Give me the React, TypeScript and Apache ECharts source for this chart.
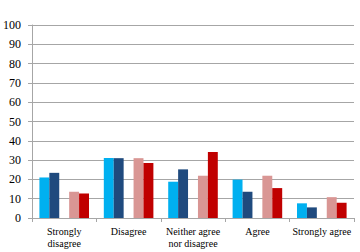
import React, { useEffect, useRef } from "react";
import * as echarts from "echarts";

const categories = ["Strongly\ndisagree", "Disagree", "Neither agree\nnor disagree", "Agree", "Strongly agree"];
const seriesA = [21, 31.1, 18.8, 19.9, 7.6];
const seriesB = [23.4, 31, 25.2, 13.6, 5.5];
const seriesC = [13.6, 31, 21.9, 21.9, 10.8];
const seriesD = [12.7, 28.5, 34.2, 15.5, 7.9];
const spacer = [null, null, null, null, null];
const yTicks = { min: 0, max: 100, interval: 10 };

const font = "'Liberation Serif', 'DejaVu Serif', serif";

export default function App() {
  const ref = useRef<HTMLDivElement>(null);
  useEffect(() => {
    const chart = echarts.init(ref.current!, null, { renderer: "svg" });
    const bar = (name: string, data: (number | null)[], color: string) => ({
      name,
      type: "bar",
      data,
      barGap: "0%",
      barCategoryGap: "23%",
      itemStyle: { color },
    });
    chart.setOption({
      animation: false,
      backgroundColor: "#ffffff",
      grid: { left: 30, right: 6, top: 25, bottom: 34 },
      xAxis: {
        type: "category",
        data: categories,
        axisLine: { lineStyle: { color: "#a6a6a6" } },
        axisTick: { show: true, length: 4, lineStyle: { color: "#a6a6a6" } },
        axisLabel: {
          interval: 0,
          fontFamily: font,
          fontSize: 10,
          color: "#000",
          lineHeight: 11.5,
          margin: 8,
        },
      },
      yAxis: {
        type: "value",
        min: yTicks.min,
        max: yTicks.max,
        interval: yTicks.interval,
        axisLine: { show: true, lineStyle: { color: "#a6a6a6" } },
        axisTick: { show: true, length: 4, lineStyle: { color: "#a6a6a6" } },
        splitLine: { lineStyle: { color: "#a6a6a6" } },
        axisLabel: { fontFamily: font, fontSize: 12, color: "#000", margin: 11 },
      },
      series: [
        bar("A", seriesA, "#00b0f0"),
        bar("B", seriesB, "#1f4a7e"),
        bar("gap", spacer, "transparent"),
        bar("C", seriesC, "#d99694"),
        bar("D", seriesD, "#c00000"),
      ],
    });
    return () => chart.dispose();
  }, []);
  return <div ref={ref} style={{ width: 360, height: 252, position: "absolute", left: 0, top: 0 }} />;
}
